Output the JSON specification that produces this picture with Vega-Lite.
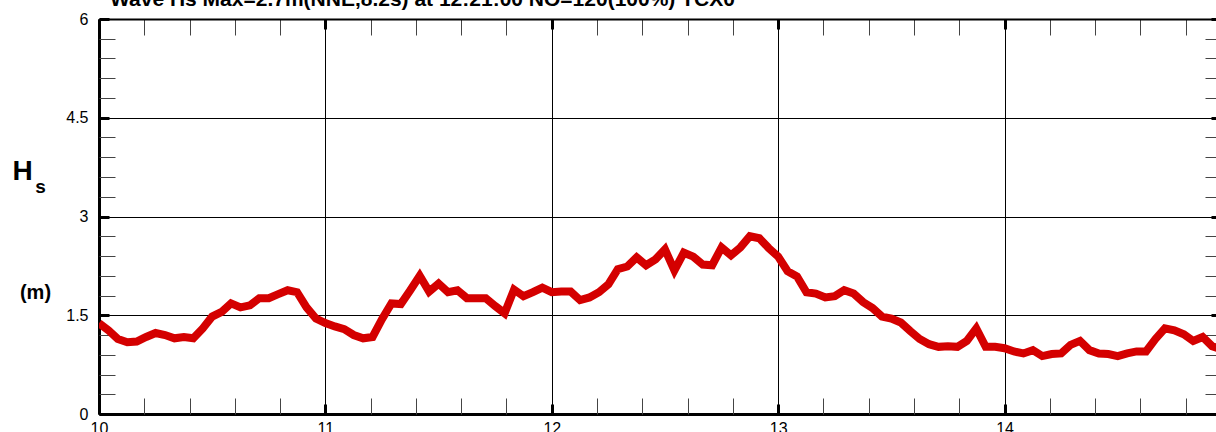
{
  "$schema": "https://vega.github.io/schema/vega-lite/v6.json",
  "autosize": {"type": "none"},
  "padding": {"left": 99, "top": 19, "right": 0, "bottom": 18},
  "width": 1117,
  "height": 395,
  "background": "white",
  "title": {
    "text": "Wave Hs Max=2.7m(NNE,8.2s) at 12:21:00 NO=120(100%) TCX0",
    "anchor": "start",
    "frame": "group",
    "dx": 11,
    "dy": 19,
    "fontSize": 21,
    "font": "Liberation Sans",
    "fontWeight": "bold",
    "baseline": "alphabetic",
    "offset": 3,
    "color": "black"
  },
  "config": {
    "view": {"stroke": null},
    "axis": {
      "labelFont": "Liberation Sans",
      "titleFont": "Liberation Sans",
      "labelColor": "black",
      "titleColor": "black",
      "domainColor": "black",
      "tickColor": "black",
      "gridColor": "black",
      "gridOpacity": 1,
      "gridWidth": 1,
      "labelFlush": false,
      "labelOverlap": false
    }
  },
  "data": {
    "values": [
      {"t": 10.0000, "hs": 1.38}, {"t": 10.0417, "hs": 1.27}, {"t": 10.0833, "hs": 1.14}, {"t": 10.1250, "hs": 1.09},
      {"t": 10.1667, "hs": 1.10}, {"t": 10.2083, "hs": 1.17}, {"t": 10.2500, "hs": 1.23}, {"t": 10.2917, "hs": 1.20},
      {"t": 10.3333, "hs": 1.15}, {"t": 10.3750, "hs": 1.17}, {"t": 10.4167, "hs": 1.15}, {"t": 10.4583, "hs": 1.30},
      {"t": 10.5000, "hs": 1.48}, {"t": 10.5417, "hs": 1.55}, {"t": 10.5833, "hs": 1.68}, {"t": 10.6250, "hs": 1.62},
      {"t": 10.6667, "hs": 1.65}, {"t": 10.7083, "hs": 1.76}, {"t": 10.7500, "hs": 1.76}, {"t": 10.7917, "hs": 1.82},
      {"t": 10.8333, "hs": 1.88}, {"t": 10.8750, "hs": 1.85}, {"t": 10.9167, "hs": 1.62}, {"t": 10.9583, "hs": 1.45},
      {"t": 11.0000, "hs": 1.38}, {"t": 11.0417, "hs": 1.33}, {"t": 11.0833, "hs": 1.29}, {"t": 11.1250, "hs": 1.20},
      {"t": 11.1667, "hs": 1.15}, {"t": 11.2083, "hs": 1.17}, {"t": 11.2500, "hs": 1.44}, {"t": 11.2917, "hs": 1.68},
      {"t": 11.3333, "hs": 1.67}, {"t": 11.3750, "hs": 1.88}, {"t": 11.4167, "hs": 2.10}, {"t": 11.4583, "hs": 1.86},
      {"t": 11.5000, "hs": 1.98}, {"t": 11.5417, "hs": 1.85}, {"t": 11.5833, "hs": 1.88}, {"t": 11.6250, "hs": 1.76},
      {"t": 11.6667, "hs": 1.76}, {"t": 11.7083, "hs": 1.76}, {"t": 11.7500, "hs": 1.64}, {"t": 11.7917, "hs": 1.53},
      {"t": 11.8333, "hs": 1.89}, {"t": 11.8750, "hs": 1.79}, {"t": 11.9167, "hs": 1.85}, {"t": 11.9583, "hs": 1.92},
      {"t": 12.0000, "hs": 1.85}, {"t": 12.0417, "hs": 1.86}, {"t": 12.0833, "hs": 1.86}, {"t": 12.1250, "hs": 1.73},
      {"t": 12.1667, "hs": 1.77}, {"t": 12.2083, "hs": 1.85}, {"t": 12.2500, "hs": 1.97}, {"t": 12.2917, "hs": 2.20},
      {"t": 12.3333, "hs": 2.24}, {"t": 12.3750, "hs": 2.38}, {"t": 12.4167, "hs": 2.26}, {"t": 12.4583, "hs": 2.35},
      {"t": 12.5000, "hs": 2.50}, {"t": 12.5417, "hs": 2.18}, {"t": 12.5833, "hs": 2.45}, {"t": 12.6250, "hs": 2.39},
      {"t": 12.6667, "hs": 2.27}, {"t": 12.7083, "hs": 2.26}, {"t": 12.7500, "hs": 2.53}, {"t": 12.7917, "hs": 2.41},
      {"t": 12.8333, "hs": 2.53}, {"t": 12.8750, "hs": 2.70}, {"t": 12.9167, "hs": 2.67}, {"t": 12.9583, "hs": 2.52},
      {"t": 13.0000, "hs": 2.39}, {"t": 13.0417, "hs": 2.17}, {"t": 13.0833, "hs": 2.09}, {"t": 13.1250, "hs": 1.85},
      {"t": 13.1667, "hs": 1.83}, {"t": 13.2083, "hs": 1.77}, {"t": 13.2500, "hs": 1.79}, {"t": 13.2917, "hs": 1.88},
      {"t": 13.3333, "hs": 1.83}, {"t": 13.3750, "hs": 1.70}, {"t": 13.4167, "hs": 1.61}, {"t": 13.4583, "hs": 1.48},
      {"t": 13.5000, "hs": 1.45}, {"t": 13.5417, "hs": 1.39}, {"t": 13.5833, "hs": 1.26}, {"t": 13.6250, "hs": 1.14},
      {"t": 13.6667, "hs": 1.06}, {"t": 13.7083, "hs": 1.02}, {"t": 13.7500, "hs": 1.03}, {"t": 13.7917, "hs": 1.02},
      {"t": 13.8333, "hs": 1.11}, {"t": 13.8750, "hs": 1.30}, {"t": 13.9167, "hs": 1.02}, {"t": 13.9583, "hs": 1.02},
      {"t": 14.0000, "hs": 1.00}, {"t": 14.0417, "hs": 0.95}, {"t": 14.0833, "hs": 0.92}, {"t": 14.1250, "hs": 0.97},
      {"t": 14.1667, "hs": 0.88}, {"t": 14.2083, "hs": 0.91}, {"t": 14.2500, "hs": 0.92}, {"t": 14.2917, "hs": 1.05},
      {"t": 14.3333, "hs": 1.11}, {"t": 14.3750, "hs": 0.97}, {"t": 14.4167, "hs": 0.92}, {"t": 14.4583, "hs": 0.91},
      {"t": 14.5000, "hs": 0.88}, {"t": 14.5417, "hs": 0.92}, {"t": 14.5833, "hs": 0.95}, {"t": 14.6250, "hs": 0.95},
      {"t": 14.6667, "hs": 1.14}, {"t": 14.7083, "hs": 1.30}, {"t": 14.7500, "hs": 1.27}, {"t": 14.7917, "hs": 1.21},
      {"t": 14.8333, "hs": 1.11}, {"t": 14.8750, "hs": 1.17}, {"t": 14.9167, "hs": 1.03}, {"t": 14.9583, "hs": 0.98}
    ]
  },
  "layer": [
    {
      "mark": {"type": "line", "color": "#d40000", "strokeWidth": 8, "clip": true, "strokeJoin": "miter"},
      "encoding": {
        "x": {
          "field": "t", "type": "quantitative",
          "scale": {"domain": [10, 14.934], "nice": false, "zero": false},
          "axis": {
            "orient": "bottom", "values": [10, 11, 12, 13, 14], "grid": true,
            "domain": true, "domainWidth": 3,
            "tickSize": -10, "tickWidth": 3,
            "labelFontSize": 16, "labelPadding": 16, "labelExpr": "'' + datum.value",
            "title": null
          }
        },
        "y": {
          "field": "hs", "type": "quantitative",
          "scale": {"domain": [0, 6], "nice": false, "zero": false},
          "axis": {
            "orient": "left", "values": [0, 1.5, 3, 4.5, 6], "grid": true,
            "domain": true, "domainWidth": 3,
            "tickSize": -10, "tickWidth": 3,
            "labelFontSize": 16, "labelPadding": 21, "labelExpr": "'' + datum.value",
            "title": "H", "titleAngle": 0, "titleX": -77, "titleY": 152,
            "titleFontSize": 28, "titleFontWeight": "bold",
            "titleAlign": "center", "titleBaseline": "middle"
          }
        }
      }
    },
    {
      "mark": {"type": "line", "opacity": 0},
      "encoding": {
        "x": {
          "field": "t", "type": "quantitative",
          "axis": {
            "orient": "bottom",
            "values": [10.2, 10.4, 10.6, 10.8, 11.2, 11.4, 11.6, 11.8, 12.2, 12.4, 12.6, 12.8, 13.2, 13.4, 13.6, 13.8, 14.2, 14.4, 14.6, 14.8],
            "grid": false, "domain": false, "labels": false,
            "tickSize": -16, "tickWidth": 1, "tickColor": "#444444",
            "title": null
          }
        },
        "y": {
          "field": "hs", "type": "quantitative",
          "axis": {
            "orient": "left",
            "values": [0.3, 0.6, 0.9, 1.2, 1.8, 2.1, 2.4, 2.7, 3.3, 3.6, 3.9, 4.2, 4.8, 5.1, 5.4, 5.7],
            "grid": false, "domain": false, "labels": false,
            "tickSize": -16, "tickWidth": 1, "tickColor": "#444444",
            "title": "(m)", "titleAngle": 0, "titleX": -64, "titleY": 273,
            "titleFontSize": 20, "titleFontWeight": "bold",
            "titleAlign": "center", "titleBaseline": "middle"
          }
        }
      }
    },
    {
      "mark": {"type": "line", "opacity": 0},
      "encoding": {
        "x": {
          "field": "t", "type": "quantitative",
          "axis": {
            "orient": "top",
            "values": [10.2, 10.4, 10.6, 10.8, 11.2, 11.4, 11.6, 11.8, 12.2, 12.4, 12.6, 12.8, 13.2, 13.4, 13.6, 13.8, 14.2, 14.4, 14.6, 14.8],
            "grid": false, "domain": true, "domainWidth": 2, "labels": false,
            "tickSize": -16, "tickWidth": 1, "tickColor": "#444444",
            "title": null
          }
        },
        "y": {
          "field": "hs", "type": "quantitative",
          "axis": {
            "orient": "right", "offset": 5,
            "values": [0.3, 0.6, 0.9, 1.2, 1.8, 2.1, 2.4, 2.7, 3.3, 3.6, 3.9, 4.2, 4.8, 5.1, 5.4, 5.7],
            "grid": false, "domain": false, "labels": false,
            "tickSize": -16, "tickWidth": 1, "tickColor": "#444444",
            "title": "s", "titleAngle": 0, "titleX": -1181, "titleY": 167,
            "titleFontSize": 19, "titleFontWeight": "bold",
            "titleAlign": "center", "titleBaseline": "middle"
          }
        }
      }
    },
    {
      "mark": {"type": "line", "opacity": 0},
      "encoding": {
        "x": {
          "field": "t", "type": "quantitative",
          "axis": {
            "orient": "top", "values": [10, 11, 12, 13, 14],
            "grid": false, "domain": false, "labels": false,
            "tickSize": -10, "tickWidth": 3,
            "title": null
          }
        },
        "y": {
          "field": "hs", "type": "quantitative",
          "axis": {
            "orient": "right", "offset": 5, "values": [0, 1.5, 3, 4.5, 6],
            "grid": false, "domain": false, "labels": false,
            "tickSize": -10, "tickWidth": 3,
            "title": null
          }
        }
      }
    }
  ],
  "resolve": {"axis": {"x": "independent", "y": "independent"}}
}
